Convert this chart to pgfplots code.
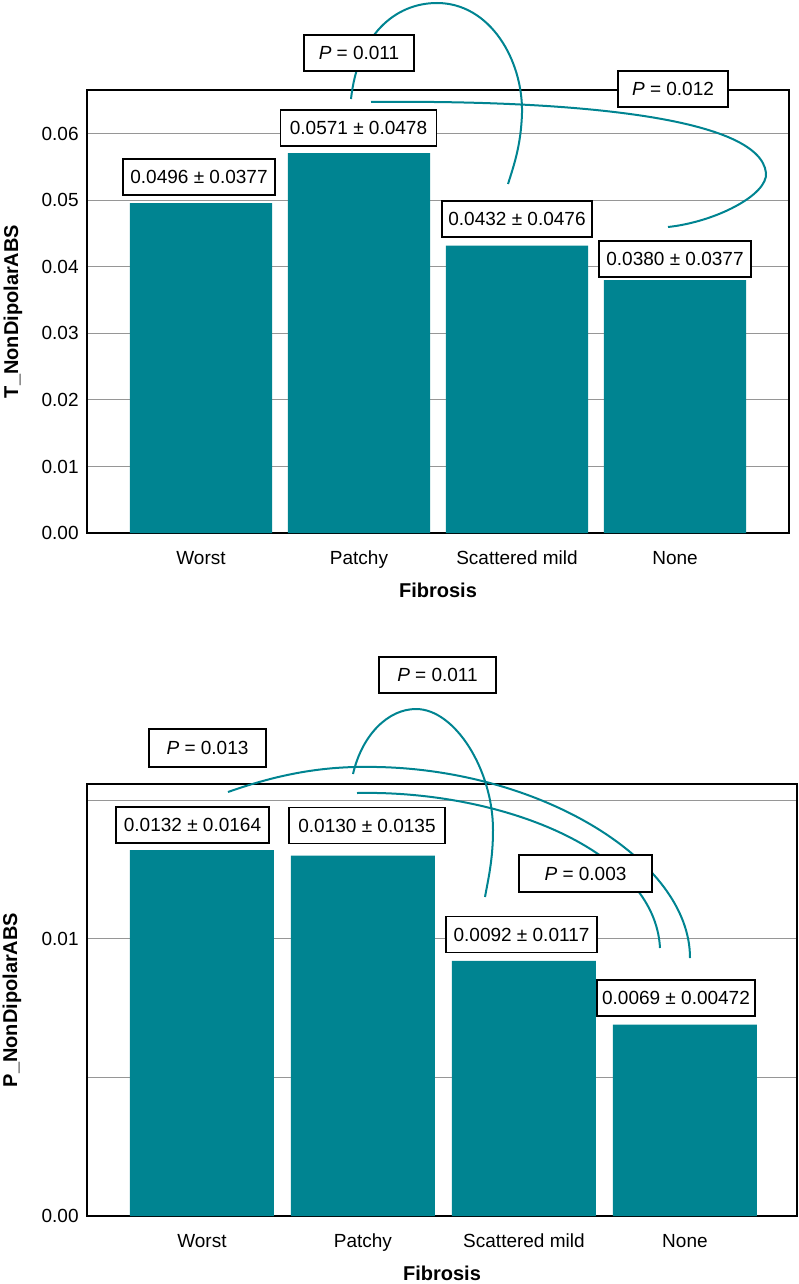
\documentclass[border=0pt]{standalone}
\usepackage{pgfplots}
\pgfplotsset{compat=1.18}
\usepackage{fontspec}
\setmainfont{Liberation Sans}
\definecolor{barteal}{RGB}{0,132,145}
\definecolor{gridgray}{RGB}{150,150,150}
\pgfplotsset{
  mystyle/.style={
    scale only axis,
    anchor=south west,
    ybar, bar shift=0pt,
    ymajorgrids,
    grid style={gridgray, line width=0.5pt},
    major tick length=0pt,
    axis line style={line width=0.75pt},
    scaled y ticks=false,
    xtick={0,1,2,3},
    xticklabels={Worst,Patchy,Scattered mild,None},
    xticklabel style={anchor=base, yshift=-15.5pt},
    yticklabel style={anchor=east, inner sep=0pt, xshift=-4pt},
    ylabel style={font=\bfseries, anchor=center},
    xlabel style={font=\bfseries, anchor=center},
    ymin=0,
  }
}
\tikzset{
  lab/.style={draw=black, line width=0.6pt, fill=white, inner sep=0pt, minimum height=18pt},
  arc/.style={barteal, line width=1pt},
}
\begin{document}
\begin{tikzpicture}[font=\fontsize{9.5}{11.4}\selectfont]
\useasboundingbox (0,0) rectangle (399pt,-642pt);
% ---------- top panel ----------
\begin{axis}[mystyle, name=top,
  at={(43.5pt,-266.5pt)}, width=351pt, height=221.5pt,
  xmin=-0.7215, xmax=3.7215, ymax=0.0666,
  bar width=0.9,
  ytick={0,0.01,0.02,0.03,0.04,0.05,0.06},
  yticklabels={0.00,0.01,0.02,0.03,0.04,0.05,0.06},
  ylabel={T\_NonDipolarABS},
  ylabel style={at={(axis description cs:-0.1054,0.5)}},
  xlabel={Fibrosis},
  xlabel style={at={(axis description cs:0.5,-0.1287)}},
]
\addplot[fill=barteal, draw=none] coordinates {(0,0.0496) (1,0.0571) (2,0.0432) (3,0.0380)};
\end{axis}
% ---------- bottom panel ----------
\begin{axis}[mystyle, name=bot,
  at={(43.5pt,-608pt)}, width=355pt, height=216pt,
  xmin=-0.714, xmax=3.696, ymax=0.01558,
  bar width=0.894,
  ytick={0,0.005,0.01,0.015},
  yticklabels={0.00,,0.01,},
  ylabel={P\_NonDipolarABS},
  ylabel style={at={(axis description cs:-0.1056,0.5)}},
  xlabel={Fibrosis},
  xlabel style={at={(axis description cs:0.5,-0.1319)}},
]
\addplot[fill=barteal, draw=none] coordinates {(0,0.0132) (1,0.0130) (2,0.0092) (3,0.0069)};
\end{axis}
% ---------- annotations (pixel units, y down) ----------
\begin{scope}[x=0.5pt, y=-0.5pt]
% top arcs
\draw[arc] (351,99) .. controls (358,35) and (395,3) .. (437,3)
  .. controls (490,3) and (523,60) .. (522,113)
  .. controls (521,145) and (514,165) .. (508,184);
\draw[arc] (371,102) .. controls (560,100) and (760,115) .. (766,173)
  .. controls (768,195) and (715,222) .. (668,227);
% top boxes
\node[lab, minimum width=55pt] at (359,53) {\textit{P} = 0.011};
\node[lab, minimum width=55pt] at (673,89) {\textit{P} = 0.012};
\node[lab, minimum width=76pt] at (199,177) {0.0496 ± 0.0377};
\node[lab, minimum width=78pt] at (358.5,128) {0.0571 ± 0.0478};
\node[lab, minimum width=75pt] at (517,219) {0.0432 ± 0.0476};
\node[lab, minimum width=76pt] at (675,259) {0.0380 ± 0.0377};
% bottom arcs
\draw[arc] (353,774) .. controls (362,735) and (388,709) .. (416,709)
  .. controls (455,709) and (493,770) .. (493,830)
  .. controls (493,860) and (488,880) .. (485,897);
\draw[arc] (228,792) .. controls (290,770) and (335,766) .. (377,767)
  .. controls (540,770) and (690,860) .. (690,958);
\draw[arc] (357,793) .. controls (500,790) and (655,850) .. (660,948);
% bottom boxes
\node[lab, minimum width=58.5pt, minimum height=19pt] at (207.5,748) {\textit{P} = 0.013};
\node[lab, minimum width=58.5pt] at (437.5,675) {\textit{P} = 0.011};
\node[lab, minimum width=66.5pt, minimum height=18.5pt] at (585.5,873.5) {\textit{P} = 0.003};
\node[lab, minimum width=76.5pt] at (192.5,825) {0.0132 ± 0.0164};
\node[lab, minimum width=78pt] at (367,825.5) {0.0130 ± 0.0135};
\node[lab, minimum width=75.5pt] at (521.5,934.5) {0.0092 ± 0.0117};
\node[lab, minimum width=79pt] at (676,998) {0.0069 ± 0.00472};
\end{scope}
\end{tikzpicture}
\end{document}
